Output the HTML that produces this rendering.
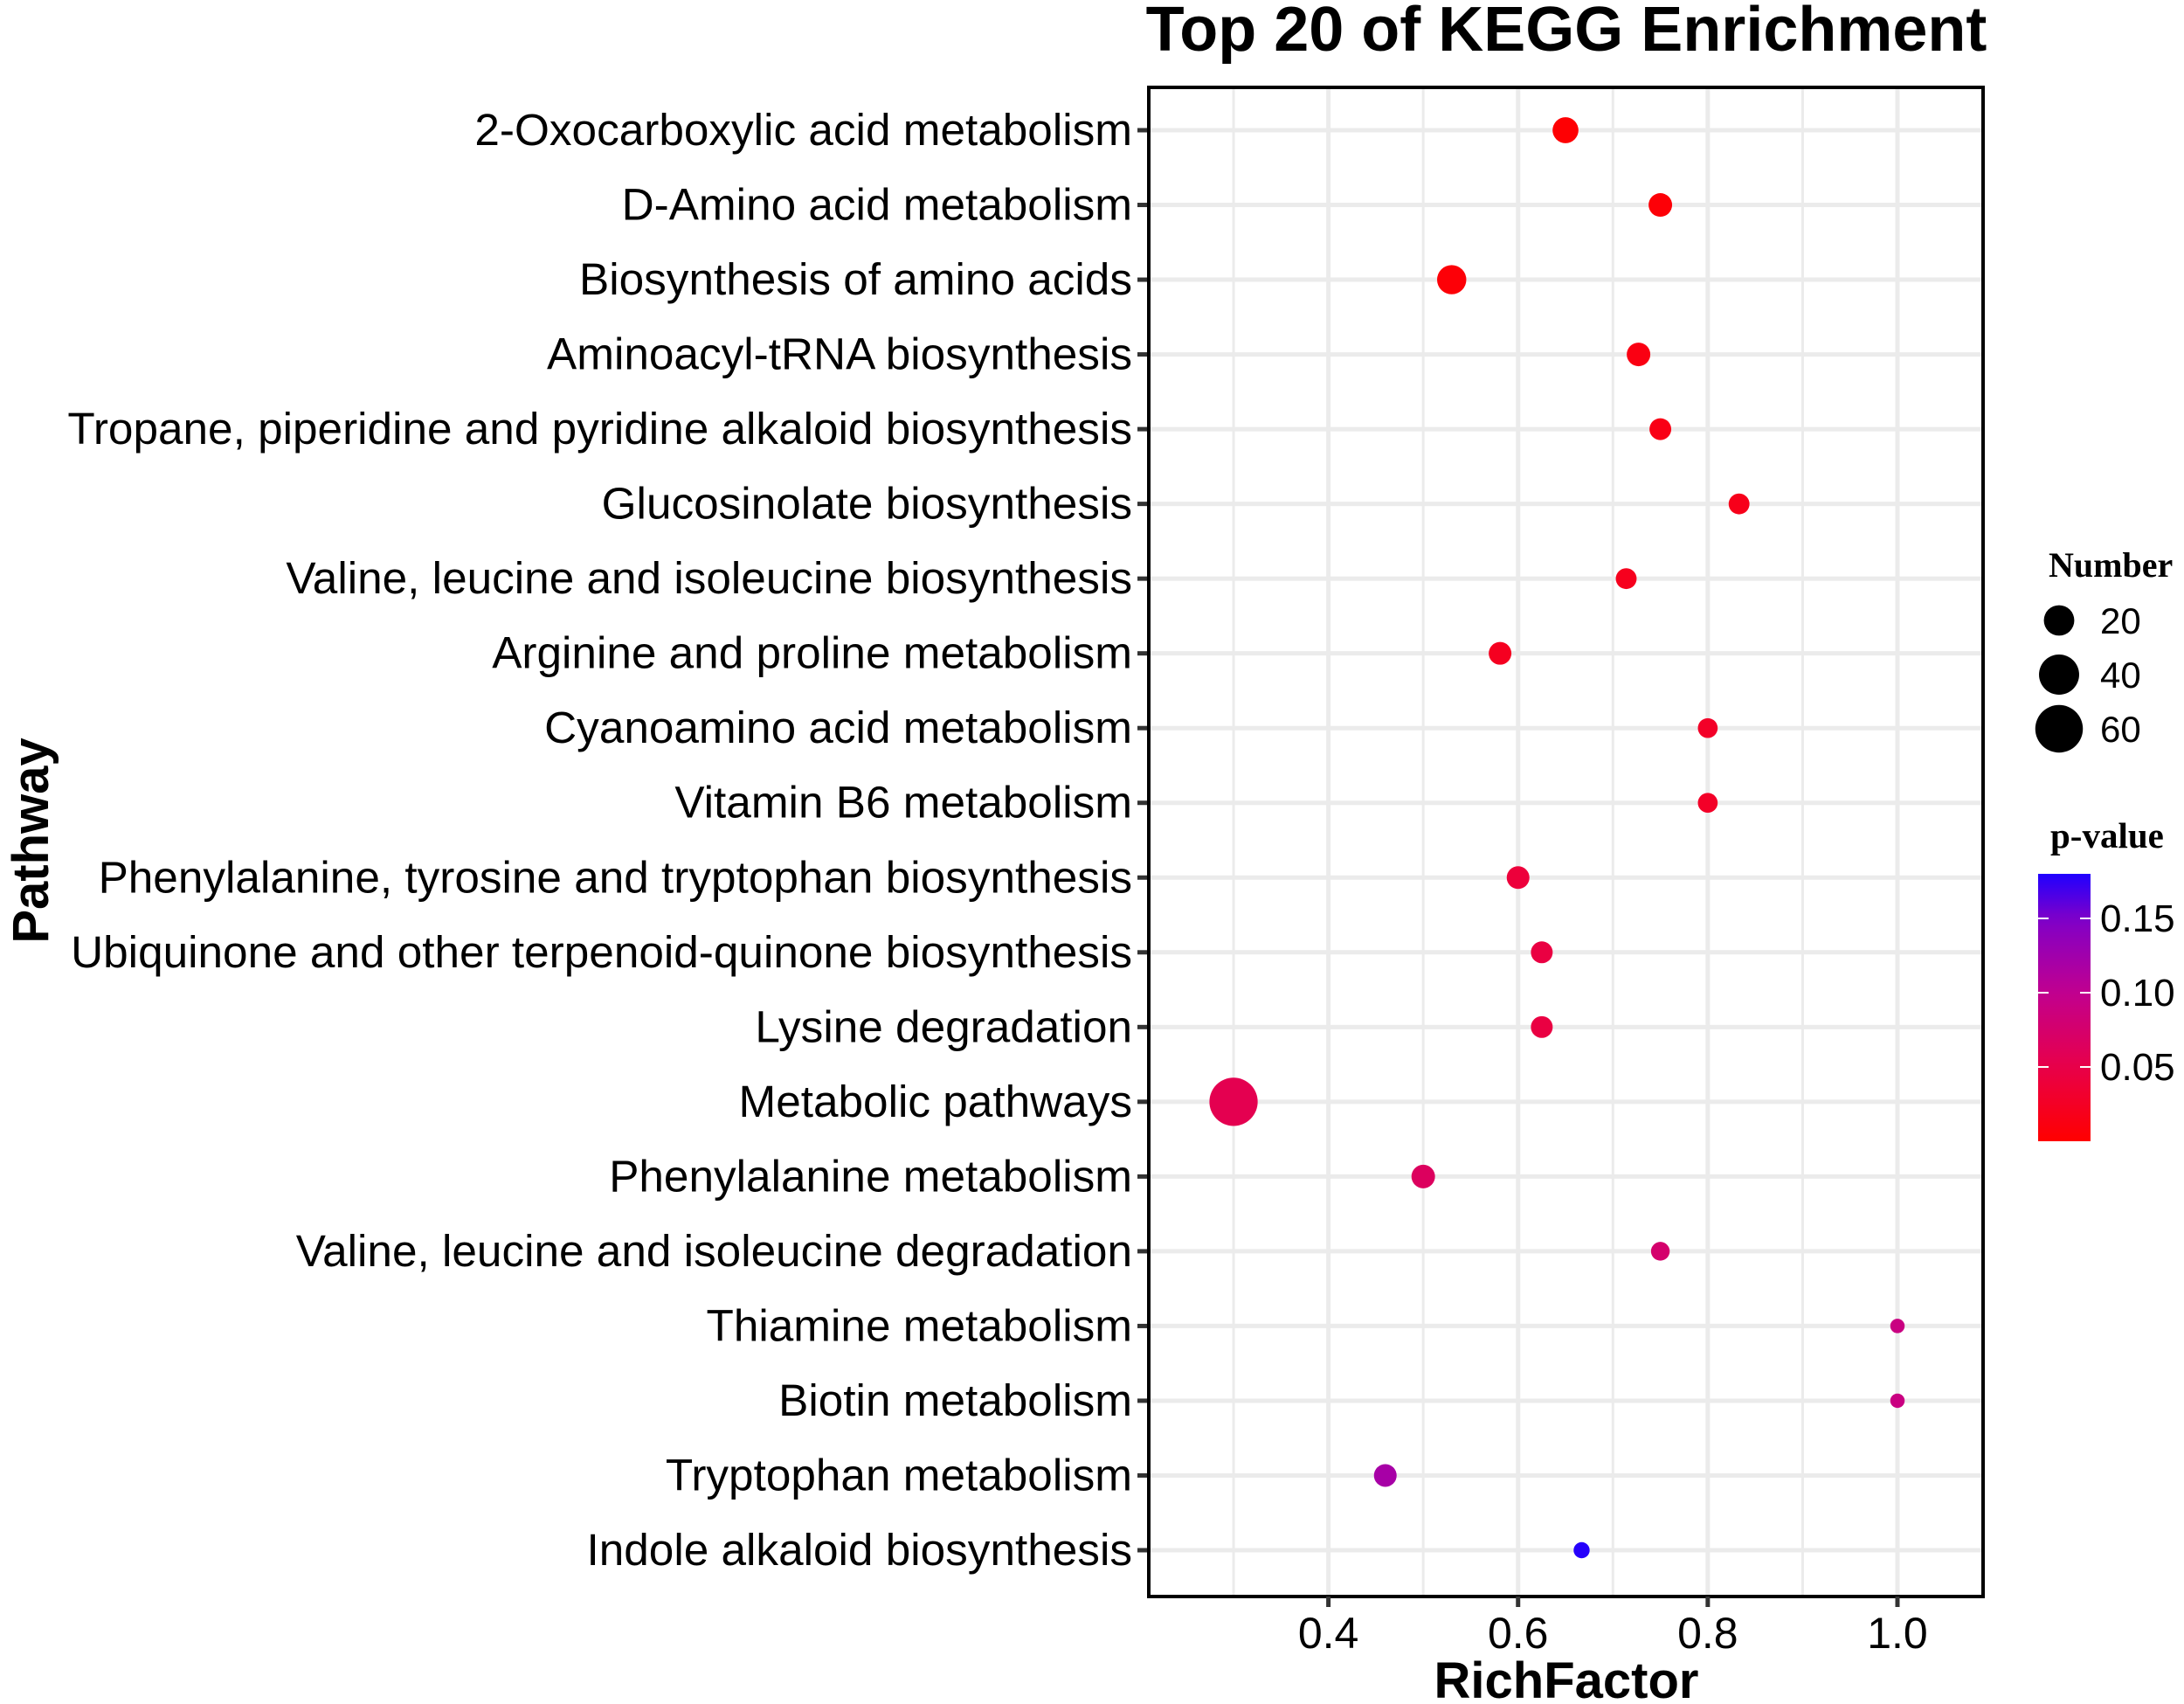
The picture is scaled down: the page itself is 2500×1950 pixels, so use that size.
<!DOCTYPE html>
<html><head><meta charset="utf-8"><style>
html,body{margin:0;padding:0;background:#fff;}
svg{display:block;font-family:"Liberation Sans",sans-serif;}
</style></head><body>
<svg id="chart" width="2500" height="1950" viewBox="0 0 2500 1950"></svg>
<script>
const pathways = ["2-Oxocarboxylic acid metabolism","D-Amino acid metabolism","Biosynthesis of amino acids","Aminoacyl-tRNA biosynthesis","Tropane, piperidine and pyridine alkaloid biosynthesis","Glucosinolate biosynthesis","Valine, leucine and isoleucine biosynthesis","Arginine and proline metabolism","Cyanoamino acid metabolism","Vitamin B6 metabolism","Phenylalanine, tyrosine and tryptophan biosynthesis","Ubiquinone and other terpenoid-quinone biosynthesis","Lysine degradation","Metabolic pathways","Phenylalanine metabolism","Valine, leucine and isoleucine degradation","Thiamine metabolism","Biotin metabolism","Tryptophan metabolism","Indole alkaloid biosynthesis"];
const richFactor = [0.65,0.75,0.53,0.727,0.75,0.833,0.714,0.581,0.8,0.8,0.6,0.625,0.625,0.3,0.5,0.75,1.0,1.0,0.46,0.667];
const geneNumber = [13,10,18,10,8,7,7,9,6,6,9,8,8,62,10,5,2,2,9,3];
const pValues = [0.002,0.005,0.005,0.012,0.014,0.018,0.02,0.022,0.027,0.027,0.04,0.045,0.045,0.055,0.065,0.075,0.09,0.09,0.12,0.178];
const xTicks = [0.4,0.6,0.8,1.0];
const xTickLabels = ["0.4","0.6","0.8","1.0"];
const xMinor = [0.3,0.5,0.7,0.9];
const sizeLegend = [20,40,60];
const pTicks = [0.05,0.10,0.15];
const pTickLabels = ["0.05","0.10","0.15"];

const NS="http://www.w3.org/2000/svg";
const svg=document.getElementById('chart');
const P={l:1315,r:2270,t:100,b:1827};
const x=v=>1520.6+(v-0.4)*(2172-1520.6)/0.6;
const y=i=>149+i*(1774-149)/19;
const rad=n=>4+3*Math.sqrt(n);
const PMAX=0.18;
const STOPS=[[0,[255,0,0]],[0.28,[232,0,74]],[0.56,[192,0,144]],[0.83,[128,0,200]],[1,[32,0,255]]];
function col(p){const t=Math.max(0,Math.min(1,p/PMAX));
 for(let k=0;k<STOPS.length-1;k++){const [a,ca]=STOPS[k],[b,cb]=STOPS[k+1];
  if(t<=b){const f=(t-a)/(b-a);const c=ca.map((v,j)=>Math.round(v+(cb[j]-v)*f));return `rgb(${c[0]},${c[1]},${c[2]})`;}}
 return 'rgb(32,0,255)';}
function mk(tag,attrs,parent){const e=document.createElementNS(NS,tag);for(const k in attrs)e.setAttribute(k,attrs[k]);(parent||svg).appendChild(e);return e;}

let t=mk('text',{x:1793,y:58,'text-anchor':'middle','font-size':72,'font-weight':'bold',fill:'#000'});


t.textContent="Top 20 of KEGG Enrichment";

const grid=mk('g',{});


xMinor.forEach(v=>{const l=mk('line',{x1:x(v),x2:x(v),y1:P.t,y2:P.b,stroke:'#ebebeb','stroke-width':3},grid);
 
 });
xTicks.forEach(v=>{const l=mk('line',{x1:x(v),x2:x(v),y1:P.t,y2:P.b,stroke:'#ebebeb','stroke-width':5},grid);
 
 });
pathways.forEach((p,i)=>{const l=mk('line',{x1:P.l,x2:P.r,y1:y(i),y2:y(i),stroke:'#ebebeb','stroke-width':5},grid);
 
 });

pathways.forEach((p,i)=>{
 const tk=mk('line',{x1:1302,x2:P.l,y1:y(i),y2:y(i),stroke:'#333','stroke-width':5});
 
 
 const lb=mk('text',{x:1296,y:y(i)+17,'text-anchor':'end','font-size':51.3,fill:'#000'});
 
 
 lb.textContent=p;
});

pathways.forEach((p,i)=>{
 const c=mk('circle',{cx:x(richFactor[i]),cy:y(i),r:rad(geneNumber[i]),fill:col(pValues[i])});
 
 
});

const br=mk('rect',{x:P.l,y:P.t,width:P.r-P.l,height:P.b-P.t,fill:'none',stroke:'#000','stroke-width':4});



xTicks.forEach((v,i)=>{
 const tk=mk('line',{x1:x(v),x2:x(v),y1:P.b,y2:P.b+12,stroke:'#333','stroke-width':5});
 
 
 const lb=mk('text',{x:x(v),y:1886,'text-anchor':'middle','font-size':50,fill:'#000'});
 
 
 lb.textContent=xTickLabels[i];
});
let xt=mk('text',{x:1793,y:1943,'text-anchor':'middle','font-size':58,'font-weight':'bold',fill:'#000'});


xt.textContent="RichFactor";
let yt=mk('text',{x:0,y:0,'text-anchor':'middle','font-size':58,'font-weight':'bold',fill:'#000',transform:'translate(55,962) rotate(-90)'});


yt.textContent="Pathway";

const sl=mk('g',{});


let st=mk('text',{x:2345,y:660,'font-size':40,'font-weight':'bold','font-family':'"Liberation Serif",serif',fill:'#000'},sl);


st.textContent="Number";
sizeLegend.forEach((n,i)=>{
 const cy=710+i*62;
 const c=mk('circle',{cx:2357,cy:cy,r:rad(n),fill:'#000'},sl);
 
 
 const lb=mk('text',{x:2404,y:cy+15,'font-size':42,fill:'#000'},sl);
 
 
 lb.textContent=String(n);
});

const cl=mk('g',{});


let ct=mk('text',{x:2347,y:970,'font-size':41,'font-weight':'bold','font-family':'"Liberation Serif",serif',fill:'#000'},cl);


ct.textContent="p-value";
const defs=mk('defs',{});
const lg=mk('linearGradient',{id:'pg',x1:0,y1:1,x2:0,y2:0},defs);
for(let k=0;k<=20;k++){mk('stop',{offset:k/20,'stop-color':col(PMAX*k/20)},lg);}
const CB={x:2333,w:60,t:1000,b:1306};
const py=v=>CB.b-(v/PMAX)*(CB.b-CB.t);
const bar=mk('rect',{x:CB.x,y:CB.t,width:CB.w,height:CB.b-CB.t,fill:'url(#pg)'},cl);


pTicks.forEach((v,i)=>{
 mk('line',{x1:CB.x,x2:CB.x+12,y1:py(v),y2:py(v),stroke:'#fff','stroke-width':2},cl);
 mk('line',{x1:CB.x+CB.w-12,x2:CB.x+CB.w,y1:py(v),y2:py(v),stroke:'#fff','stroke-width':2},cl);
 const lb=mk('text',{x:2404,y:py(v)+15,'font-size':44,fill:'#000'},cl);
 
 
 lb.textContent=pTickLabels[i];
});
</script>
</body></html>
